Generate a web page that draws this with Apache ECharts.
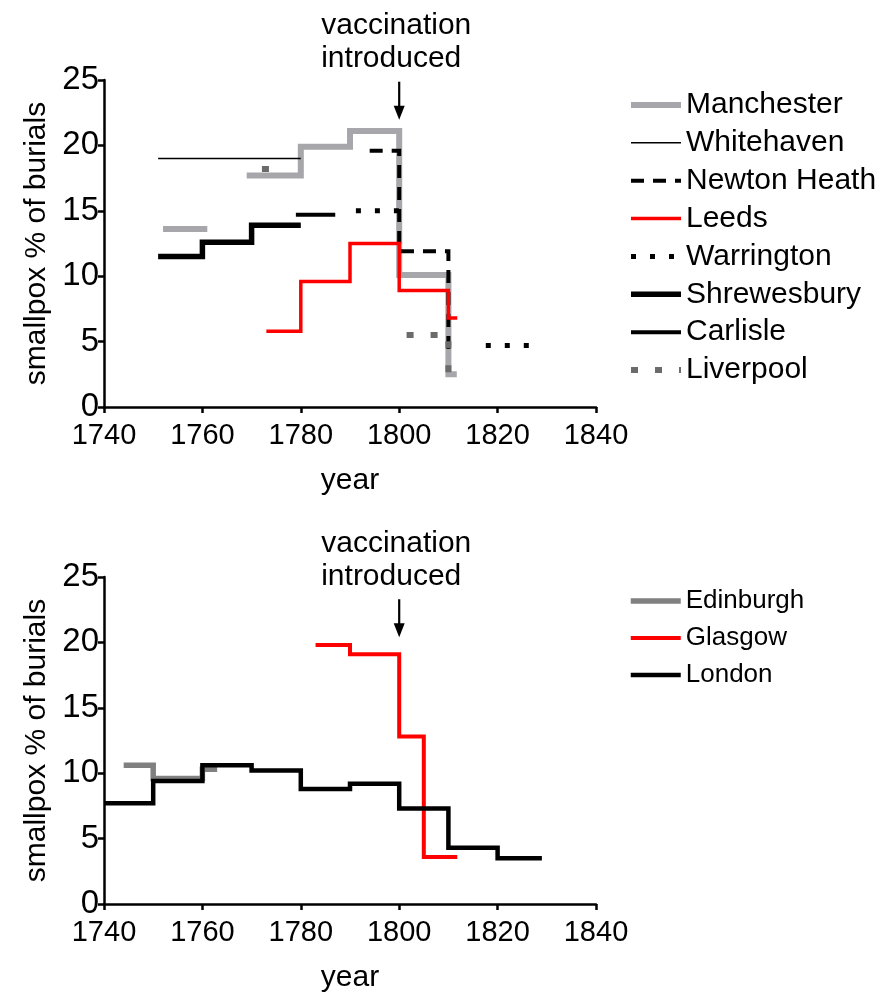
<!DOCTYPE html>
<html>
<head>
<meta charset="utf-8">
<script src="https://cdn.jsdelivr.net/npm/echarts@6/dist/echarts.min.js"></script>
<style>
  html, body { margin: 0; padding: 0; background: #fff; }
  #chart { width: 878px; height: 995px; }
</style>
</head>
<body>
<div id="chart"></div>
<script>
// Year axis ticks and value axis ticks
const yearTicks = [1740, 1760, 1780, 1800, 1820, 1840];
const valueTicks = [0, 5, 10, 15, 20, 25];
const vaccinationYear = 1800;

// Smallpox share of burials (%), [year, value]; GAP breaks a record
const GAP = null;
// English towns
const manchester  = [[1752, 13.6], [1761, 13.6], GAP, [1769, 17.7], [1780, 19.9], [1790, 21.1], [1800, 10.1], [1810, 2.5], [1811.7, 2.5]];
const whitehaven  = [[1751, 19.0], [1780, 19.0]];
const newtonHeath = [[1794, 19.6], [1800, 11.9], [1810, 4.4], [1811.5, 4.4]];
const leeds       = [[1773, 5.8], [1780, 9.6], [1790, 12.5], [1800, 8.9], [1810, 6.8], [1811.8, 6.8]];
const warrington  = [[1791.2, 15.0], [1800, 15.0], GAP, [1817.6, 4.7], [1828, 4.7]];
const shrewesbury = [[1751, 11.5], [1760, 12.6], [1770, 13.9], [1780, 13.9]];
const carlisle    = [[1779, 14.7], [1787, 14.7]];
const liverpool   = [[1772.1, 18.2], [1775, 18.2], GAP, [1801.5, 5.5], [1810, 2.5], [1811.5, 2.5]];
// Scottish cities and London
const edinburgh = [[1744, 10.6], [1750, 9.6], [1760, 10.3], [1763, 10.3]];
const glasgow   = [[1783, 19.8], [1790, 19.1], [1800, 12.8], [1805, 3.6], [1811.8, 3.6]];
const london    = [[1740, 7.7], [1750, 9.4], [1760, 10.6], [1770, 10.2], [1780, 8.8], [1790, 9.2], [1800, 7.3], [1810, 4.3], [1820, 3.5], [1829, 3.5]];

const FONT = 'Liberation Sans, Arial, sans-serif';

// Line appearance for each town
const townStyles = {
  'Manchester':   { color: '#a6a6ab', width: 6 },
  'Whitehaven':   { color: '#000000', width: 1.5 },
  'Newton Heath': { color: '#000000', width: 4, type: [13, 9] },
  'Leeds':        { color: '#ff0000', width: 3.5 },
  'Warrington':   { color: '#000000', width: 5, type: [5, 14] },
  'Shrewesbury':  { color: '#000000', width: 5.5 },
  'Carlisle':     { color: '#000000', width: 4 },
  'Liverpool':    { color: '#6b6b6b', width: 6, type: [7, 17] },
  'Edinburgh':    { color: '#808080', width: 5.5 },
  'Glasgow':      { color: '#ff0000', width: 4 },
  'London':       { color: '#000000', width: 4.5 }
};

const topTowns = [
  ['Manchester', manchester], ['Whitehaven', whitehaven], ['Newton Heath', newtonHeath],
  ['Leeds', leeds], ['Warrington', warrington], ['Shrewesbury', shrewesbury],
  ['Carlisle', carlisle], ['Liverpool', liverpool]
];
const bottomTowns = [['Edinburgh', edinburgh], ['Glasgow', glasgow], ['London', london]];

function toData(points) {
  return points.map(p => p === GAP ? ['-', '-'] : p);
}

function lineStyleOf(name) {
  const s = townStyles[name];
  return { color: s.color, width: s.width, type: s.type || 'solid', cap: 'butt', join: 'miter' };
}

function makeSeries(list, idx) {
  return list.map(([name, pts]) => ({
    name: name,
    type: 'line',
    step: 'end',
    xAxisIndex: idx,
    yAxisIndex: idx,
    symbol: 'none',
    showSymbol: false,
    connectNulls: false,
    color: townStyles[name].color,
    lineStyle: lineStyleOf(name),
    emphasis: { disabled: true },
    data: toData(pts)
  }));
}

// Legend keys show only the line sample, no point marker
function makeLegend(list, top, fontSize, lineHeight, gap) {
  return {
    orient: 'vertical',
    left: 623,
    top: top,
    itemWidth: 50,
    itemHeight: 14,
    itemGap: gap,
    selectedMode: false,
    textStyle: { fontSize: fontSize, lineHeight: lineHeight, color: '#000', fontFamily: FONT },
    data: list.map(([name]) => ({
      name: name,
      lineStyle: lineStyleOf(name),
      itemStyle: { opacity: 0, color: 'rgba(0,0,0,0)', borderWidth: 0 }
    }))
  };
}

function xAxisOf(idx) {
  return {
    type: 'value', gridIndex: idx,
    min: yearTicks[0], max: yearTicks[yearTicks.length - 1],
    interval: yearTicks[1] - yearTicks[0],
    name: 'year', nameLocation: 'middle', nameGap: 59,
    nameTextStyle: { fontSize: 30, color: '#000', fontFamily: FONT },
    axisLine: { lineStyle: { color: '#000', width: 2.5 } },
    axisTick: { inside: false, length: 6, lineStyle: { color: '#000', width: 2.5 } },
    axisLabel: { fontSize: 29, color: '#000', margin: 14, fontFamily: FONT, formatter: v => String(v) },
    splitLine: { show: false }
  };
}

function yAxisOf(idx) {
  return {
    type: 'value', gridIndex: idx,
    min: valueTicks[0], max: valueTicks[valueTicks.length - 1],
    interval: valueTicks[1] - valueTicks[0],
    name: 'smallpox % of burials', nameLocation: 'middle', nameGap: 52,
    nameTextStyle: { fontSize: 30, color: '#000', fontFamily: FONT },
    axisLine: { show: true, lineStyle: { color: '#000', width: 2.5 } },
    axisTick: { show: true, inside: false, length: 6, lineStyle: { color: '#000', width: 2.5 } },
    axisLabel: { fontSize: 33, color: '#000', margin: 5, fontFamily: FONT },
    splitLine: { show: false }
  };
}

const chart = echarts.init(document.getElementById('chart'), null, { renderer: 'canvas' });

chart.setOption({
  animation: false,
  backgroundColor: '#fff',
  textStyle: { fontFamily: FONT },
  grid: [
    { left: 104, top: 80, width: 492, height: 327 },
    { left: 104, top: 577, width: 492, height: 327 }
  ],
  xAxis: [xAxisOf(0), xAxisOf(1)],
  yAxis: [yAxisOf(0), yAxisOf(1)],
  legend: [
    makeLegend(topTowns, 85, 30, 30, 7.86),
    makeLegend(bottomTowns, 583, 26, 26, 11)
  ],
  series: makeSeries(topTowns, 0).concat(makeSeries(bottomTowns, 1))
});

// "vaccination introduced" note with a downward arrow at the vaccination year
function vaccinationNote(gridIndex, arrowTopValue, arrowTipValue) {
  const top = chart.convertToPixel({ gridIndex: gridIndex }, [vaccinationYear, arrowTopValue]);
  const tip = chart.convertToPixel({ gridIndex: gridIndex }, [vaccinationYear, arrowTipValue]);
  const x = top[0];
  return [
    {
      type: 'text', x: x - 78, y: top[1] - 72, silent: true,
      style: {
        text: 'vaccination\nintroduced', fill: '#000', fontSize: 30, fontFamily: FONT,
        lineHeight: 33, align: 'left', verticalAlign: 'top'
      }
    },
    {
      type: 'line', silent: true,
      shape: { x1: x, y1: top[1], x2: x, y2: tip[1] - 10 },
      style: { stroke: '#000', lineWidth: 2.2 }
    },
    {
      type: 'polygon', silent: true,
      shape: { points: [[x - 5.5, tip[1] - 14], [x + 5.5, tip[1] - 14], [x, tip[1]]] },
      style: { fill: '#000' }
    }
  ];
}

chart.setOption({
  graphic: vaccinationNote(0, 24.87, 21.96).concat(vaccinationNote(1, 23.3, 20.4))
});
</script>
</body>
</html>
